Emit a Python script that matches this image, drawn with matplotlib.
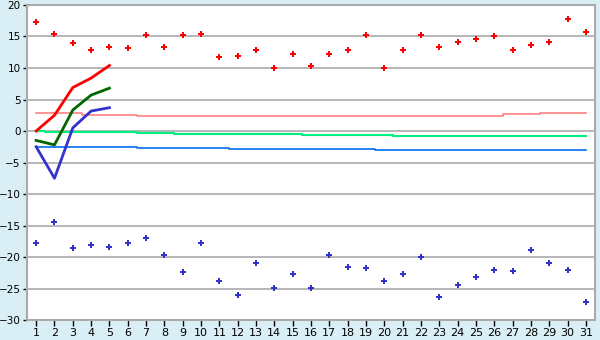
import matplotlib
matplotlib.use("Agg")
import matplotlib.pyplot as plt
import numpy as np

days = list(range(1, 32))
max_temp = [17.25, 15.35, 13.9, 12.8, 13.3, 13.1, 15.2, 13.3, 15.2, 15.45,
            11.7, 11.85, 12.8, 9.95, 12.17, 10.27, 12.17, 12.8, 15.2, 9.95,
            12.8, 15.2, 13.3, 14.07, 14.55, 15.03, 12.8, 13.6, 14.07, 17.7, 15.65]
min_temp = [-17.83, -14.5, -18.6, -18.15, -18.47, -17.83, -17.04, -19.7, -22.4, -17.83,
            -23.86, -26.1, -21.0, -24.97, -22.75, -24.97, -19.7, -21.64, -21.8, -23.86,
            -22.75, -20.05, -26.4, -24.5, -23.2, -22.1, -22.27, -18.94, -21.0, -22.1, -27.2]
cur_days = [1, 2, 3, 4, 5]
cur_max = [0.0, 2.5, 6.9, 8.4, 10.4]
cur_mean = [-1.5, -2.2, 3.33, 5.7, 6.8]
cur_min = [-2.5, -7.5, 0.5, 3.17, 3.7]
norm_max = [2.8, 2.8, 2.8, 2.55, 2.55, 2.55] + [2.45] * 20 + [2.65, 2.65, 2.8, 2.8, 2.8]
norm_mean = [0.0, -0.15, -0.15, -0.15, -0.15, -0.15, -0.3, -0.3] + [-0.5] * 7 + [-0.69] * 5 + [-0.85] * 11
norm_min = [-2.49] * 4 + [-2.6] * 2 + [-2.75] * 5 + [-2.9] * 8 + [-3.06] * 12
yticks = list(range(-30, 21, 5))

bg = "#d9eff5"
fig = plt.figure(figsize=(6.0, 3.4), dpi=100, facecolor=bg)
ax = fig.add_axes([0.045, 0.0588, 0.9467, 0.9265])
ax.set_facecolor("white")

ax.plot(days, norm_max, drawstyle="steps-mid", color="#ff8080", lw=1.2, zorder=2)
ax.plot(days, norm_mean, drawstyle="steps-mid", color="#00f080", lw=1.5, zorder=2)
ax.plot(days, norm_min, drawstyle="steps-mid", color="#0070f0", lw=1.2, zorder=2)

ax.plot(cur_days, cur_max, color="#ff0000", lw=2, zorder=3)
ax.plot(cur_days, cur_mean, color="#006600", lw=2, zorder=3)
ax.plot(cur_days, cur_min, color="#3333cc", lw=2, zorder=3)

ax.plot(days, max_temp, ls="none", marker="P", ms=5, color="#ff0000", mew=0, zorder=4)
ax.plot(days, min_temp, ls="none", marker="P", ms=5, color="#3333cc", mew=0, zorder=4)

ax.set_xlim(0.5, 31.5)
ax.set_ylim(-30, 20)
ax.set_xticks(days)
ax.set_xticklabels([str(d) for d in days])
ax.set_yticks(yticks)
ax.set_yticklabels([str(t).replace("-", "\u2212") for t in yticks])
ax.yaxis.grid(True, color="#aaaaaa", lw=1.2)
ax.set_axisbelow(True)
for s in ["left", "top", "right", "bottom"]:
    ax.spines[s].set_color("#aaaaaa")
    ax.spines[s].set_linewidth(1.5)
ax.tick_params(axis="x", colors="black", labelsize=8, length=4, width=1, pad=1.5)
ax.tick_params(axis="y", colors="black", labelsize=7.5, length=3, width=1, pad=1.5)

fig.savefig("out.png", dpi=100, facecolor=bg)
